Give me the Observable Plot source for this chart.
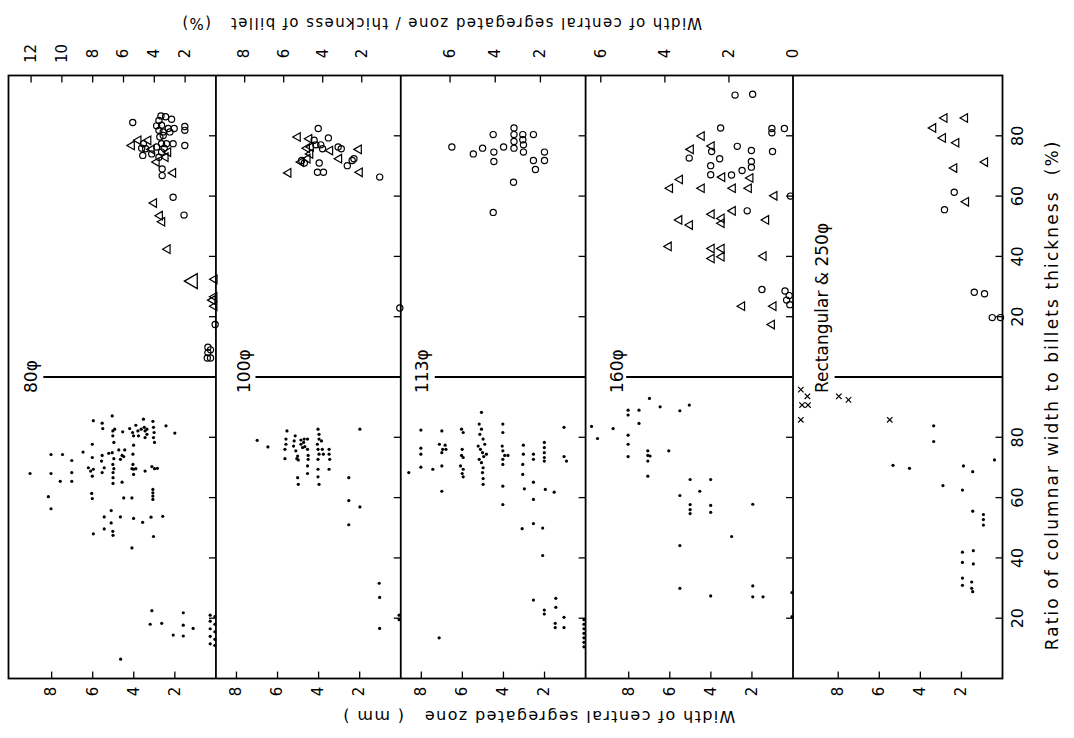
<!DOCTYPE html>
<html>
<head>
<meta charset="utf-8">
<script src="https://cdn.jsdelivr.net/npm/d3@7"></script>
<script src="https://cdn.jsdelivr.net/npm/@observablehq/plot@0.6"></script>
<style>
  html, body { margin: 0; padding: 0; background: #fff; }
  #chart { width: 1074px; height: 738px; }
</style>
</head>
<body>
<div id="chart"></div>
<script>
// ---------------- axes / panels ----------------
const panels = ["80φ", "100φ", "113φ", "160φ", "Rectangular & 250φ"];
const panelMaxMm = [10.1, 9.0, 9.0, 10.1, 10.2];          // width axis extent of each panel (mm)
const mmPerPercent = [0.75, 0.95, 1.10, 1.56, 2.5];        // top (%) axis relative to bottom (mm) axis
const mmTicks = [2, 4, 6, 8];
const percentTicks = [[2, 4, 6, 8, 10, 12], [2, 4, 6, 8], [2, 4, 6], [0, 2, 4, 6], []];
const ratioTicks = [20, 40, 60, 80];

// ---------------- lower half: width in mm vs ratio (%) ----------------
const dots80 = [[9.05,68.0],[8.16,60.3],[8.03,74.3],[8.03,68.0],[8.03,56.3],[7.58,65.4],[7.47,74.3],[7.02,72.3],[7.02,68.3],[7.02,65.4],[6.47,75.1],
[5.97,85.5],[6.02,77.7],[6.02,73.3],[6.21,69.9],[6.10,68.8],[5.97,69.4],[6.02,67.1],[6.05,61.4],[6.02,59.7],[5.97,48.0],
[5.54,84.7],[5.51,82.9],[5.54,74.0],[5.57,72.1],[5.44,69.9],[5.54,68.3],[5.44,53.6],[5.44,49.6],
[5.05,87.1],[5.02,82.1],[4.93,82.7],[5.02,80.5],[4.97,78.3],[5.22,74.7],[5.05,74.9],[4.97,72.9],[5.02,71.0],[4.97,69.6],[5.01,68.3],[5.01,66.6],[5.01,64.7],[5.10,55.7],[5.10,51.6],[5.02,48.8],[5.01,47.5],
[4.54,81.8],[4.73,75.8],[4.57,74.0],[4.65,72.7],[4.44,75.8],[4.49,73.6],[4.57,65.1],[4.49,59.9],[4.65,53.6],
[4.20,82.9],[4.06,81.6],[4.01,80.5],[4.01,77.4],[4.04,74.4],[4.04,71.0],[4.09,69.6],[4.01,69.4],[3.90,69.6],[4.01,67.7],[4.09,59.9],[4.01,53.1],[4.09,43.3],
[3.90,84.0],[3.80,82.1],[3.77,80.5],[3.64,82.7],[3.57,51.8],
[3.53,86.0],[3.49,83.3],[3.45,82.1],[3.36,81.0],[3.45,79.9],[3.36,82.7],[3.45,68.8],[3.16,53.5],
[3.07,85.3],[3.04,83.3],[3.01,81.6],[3.04,79.9],[2.99,78.3],[3.12,70.3],[2.99,69.6],[2.85,69.7],[3.07,62.7],[3.07,61.6],[3.07,60.5],[3.07,59.4],[3.04,47.1],[2.59,53.8],
[2.43,83.8],[2.00,81.4],
[3.12,22.5],[3.20,18.0],[2.64,18.3],[2.08,14.4],[1.59,21.8],[1.59,17.7],[1.59,14.1],[1.11,16.6],[4.64,6.4],
[0.28,21.0],[0.05,20.5],[0.28,19.0],[0.05,18.0],[0.28,16.5],[0.05,15.5],[0.28,14.0],[0.05,13.0],[0.28,11.5],[0.05,11.0]];

const dots100 = [[6.99,79.0],[6.47,76.8],
[5.54,82.1],[5.59,79.4],[5.59,77.7],[5.64,76.0],[5.64,72.9],
[5.14,80.5],[5.19,78.8],[5.22,77.1],[5.11,75.5],[5.02,73.8],[5.06,72.9],[4.99,72.5],[5.02,66.6],[4.99,64.4],
[4.86,79.1],[4.86,77.7],[4.78,76.6],[4.73,78.3],[4.70,79.4],[4.67,76.9],
[4.54,79.4],[4.54,76.0],[4.51,74.0],[4.51,72.7],[4.54,70.5],[4.54,68.0],
[4.03,82.7],[3.98,81.0],[3.98,79.4],[4.06,77.7],[4.03,76.0],[3.98,74.4],[4.03,72.7],[4.03,69.4],[4.03,66.9],[3.98,64.4],[3.86,78.8],[3.82,76.0],[3.77,74.4],
[3.49,76.0],[3.49,74.4],[3.46,72.7],[3.49,69.4],
[2.53,66.6],[2.53,59.0],[2.53,51.0],
[1.99,82.7],[1.99,56.9],
[1.05,31.6],[1.03,26.9],[1.03,16.6],
[0.08,21.0],[0.08,19.5]];

const dots113 = [[8.61,68.3],
[8.02,82.4],[8.02,76.4],[8.02,74.4],[8.02,70.1],[7.44,69.4],
[7.00,82.1],[7.12,77.7],[6.84,77.4],[6.96,76.0],[7.00,74.9],[6.80,76.0],[7.00,70.5],[7.00,62.1],[7.13,13.5],
[6.04,82.7],[5.96,81.6],[6.01,76.0],[6.04,74.0],[5.96,73.3],[6.09,70.5],[5.96,69.4],[6.01,68.0],[5.96,66.9],
[5.07,88.3],[5.18,84.4],[5.07,82.7],[5.15,81.0],[4.99,79.4],[5.23,77.1],[5.12,76.0],[5.02,74.9],[4.96,73.6],[5.18,72.7],[5.07,71.6],[4.99,69.9],[5.02,68.3],[4.99,66.3],[4.99,64.4],[4.91,77.7],[4.83,74.4],
[4.03,84.4],[4.03,81.6],[4.06,77.1],[4.03,75.5],[3.94,74.0],[4.03,72.7],[4.03,71.0],[4.03,63.8],[4.03,57.7],[3.78,74.0],
[3.03,77.4],[3.03,74.4],[3.06,71.0],[3.06,67.7],[2.98,62.9],[3.09,49.7],
[2.54,74.4],[2.54,72.7],[2.54,65.1],[2.54,59.4],[2.54,51.4],[2.54,26.0],
[2.01,78.3],[2.01,76.6],[2.01,74.9],[2.01,73.3],[2.01,72.1],[1.96,62.7],[2.09,49.9],[2.09,40.8],[2.01,22.7],[2.01,21.4],
[1.53,61.8],[1.45,26.6],[1.45,23.6],[1.48,18.3],[1.48,16.9],
[1.05,83.3],[1.05,73.6],[0.93,72.1],[1.05,20.3],[1.05,16.9],
[0.08,19.5],[0.08,18.0],[0.08,16.5],[0.08,15.0],[0.08,13.5],[0.08,12.0],[0.08,10.5]];

const dots160 = [[9.81,83.6],[9.52,79.6],[8.76,82.9],
[8.03,89.0],[8.03,87.4],[8.03,80.7],[8.03,77.7],[8.03,73.6],
[7.50,89.0],[7.50,84.6],
[7.07,75.5],[7.07,74.0],[6.96,73.8],[7.07,72.1],[7.07,67.1],
[6.99,92.9],[6.47,90.1],[6.05,75.5],
[5.51,88.8],[5.51,60.7],[5.51,44.1],[5.51,29.9],
[5.05,90.7],[5.01,66.0],[5.01,57.7],[5.01,56.0],[5.01,54.7],
[4.54,62.1],
[4.01,66.0],[4.01,57.4],[4.01,55.1],[4.01,27.4],
[2.99,47.1],
[1.96,57.8],[1.96,30.7],[1.96,27.1],[1.46,27.1],
[0.05,28.5],[0.05,20.5]];

const dots250 = [[3.35,83.8],[3.35,78.6],[5.33,70.7],[4.53,69.7],[2.90,64.0],[1.95,62.5],[1.90,70.5],[1.45,68.6],[1.45,55.5],
[0.93,54.4],[0.93,52.7],[0.93,50.9],
[1.95,41.9],[1.95,38.5],[1.95,33.3],[1.95,30.9],
[1.42,42.4],[1.42,38.0],[1.50,32.0],[1.50,29.9],[1.45,28.8],
[0.39,72.5]];

const crossesRect = [[9.82,95.8],[9.50,93.6],[9.76,90.7],[9.47,90.7],[9.82,85.8],[7.97,93.6],[7.50,92.4],[5.49,85.8]];

// ---------------- upper half: width / billet thickness (%) vs ratio (%) ----------------
const circles80 = [[5.40,84.4],[3.57,86.6],[3.27,86.3],[3.70,85.1],[2.88,85.5],[3.85,83.3],[3.53,83.5],[3.10,82.4],[2.71,82.4],[3.70,81.8],[3.42,81.3],[2.99,81.3],[3.42,80.1],[3.64,79.6],
[2.02,83.1],[2.02,81.8],[2.02,76.8],[4.71,77.4],[4.82,75.9],[4.56,75.7],[4.75,73.5],[4.17,74.0],[3.85,76.3],[3.53,77.4],[3.21,77.4],[2.78,77.4],[3.36,75.9],[3.53,74.6],[3.70,72.9],
[3.49,69.0],[3.49,66.8],[2.78,59.6],[2.07,53.7],
[0.05,17.4],[0.52,9.9],[0.52,8.1],[0.35,9.0],[0.35,6.3],[0.56,6.3]];
const triangles80 = [[5.46,76.8],[5.03,78.5],[4.39,78.5],[4.17,75.5],[3.10,74.6],[3.27,72.9],[3.85,71.3],[2.78,67.7],[4.02,57.7],[3.64,53.5],[3.49,51.5],[3.14,42.4],
[0.09,32.4],[0.10,26.6],[0.22,25.5],[0.10,23.5]];
const bigTriangles80 = [[1.49,31.8]];

const circles100 = [[4.23,82.4],[3.71,79.3],[4.44,78.5],[4.35,77.0],[4.10,77.0],[4.01,75.7],[5.08,71.8],[4.94,71.0],[4.18,71.0],[4.27,67.9],[3.96,67.9],
[3.21,76.3],[3.05,75.7],[2.74,70.1],[2.49,71.8],[2.40,72.4],[1.08,66.3],[0.05,22.9]];
const triangles100 = [[5.28,79.6],[4.69,79.0],[4.81,75.9],[4.64,74.0],[4.78,72.4],[4.61,76.3],[5.11,71.3],[5.76,67.7],[3.62,75.1],[3.16,72.4],[2.15,75.5],[2.10,67.9]];

const circles113 = [[5.92,76.3],[4.97,74.0],[4.56,75.9],[4.09,80.4],[4.06,74.6],[4.06,71.5],[3.63,76.3],[3.17,82.6],[3.17,80.4],[3.17,78.1],[3.17,75.9],
[2.78,80.4],[2.78,78.7],[2.75,77.0],[2.75,74.6],[2.31,80.4],[2.31,71.8],[2.22,68.8],[1.82,74.6],[1.82,71.8],[3.19,64.6],[4.09,54.6]];
const triangles113 = [];

const circles160 = [[3.24,72.6],[2.54,74.8],[2.57,70.1],[2.57,67.1],[2.26,82.6],[2.29,72.4],[1.92,67.0],[1.74,76.5],[1.59,68.5],[1.30,75.1],[1.30,71.5],[1.30,69.6],
[1.81,93.5],[1.26,93.8],[0.66,82.4],[0.66,81.0],[0.27,82.4],[0.64,74.8],[1.43,55.1],[0.97,29.0],[0.08,60.0],
[0.25,28.5],[0.12,27.0],[0.20,25.5],[0.10,24.0]];
const triangles160 = [[2.85,79.9],[3.19,75.5],[3.53,65.5],[3.84,62.6],[2.85,62.6],[2.54,76.6],[2.21,66.3],[1.88,62.6],[1.33,66.0],[1.38,62.6],[0.58,60.1],
[2.54,54.0],[2.23,52.6],[2.23,51.0],[1.88,55.1],[0.84,52.1],[3.55,52.1],[3.22,50.4],[3.88,43.3],[2.54,42.6],[2.54,39.3],[2.23,42.6],[2.23,39.9],[0.92,40.1],
[1.59,23.5],[0.61,23.5],[0.66,17.4]];

const circlesRect = [[0.94,61.3],[1.13,55.5],[0.55,28.1],[0.35,27.6],[0.20,19.7],[0.04,19.7]];
const trianglesRect = [[1.13,85.9],[0.73,85.9],[1.35,82.6],[1.16,79.3],[0.90,77.7],[0.34,71.3],[0.94,69.3],[0.71,58.1]];

// ---------------- texts ----------------
const topTitle = "Width of central segregated zone / thickness of billet\u00a0\u00a0\u00a0(%)";
const bottomTitle = "Width of central segregated zone\u00a0\u00a0\u00a0(\u00a0mm\u00a0)";
const rightTitle = "Ratio of columnar width to billets thickness\u00a0\u00a0(%)";

// ---------------- layout helpers ----------------
const starts = panelMaxMm.map((_, i) => d3.sum(panelMaxMm.slice(0, i)));
const totalMm = d3.sum(panelMaxMm);
const ux = (i, mm) => starts[i] + panelMaxMm[i] - mm;   // panel-local reversed width axis
const UPPER = 100;                                      // upper half sits above the lower half

const lowerDotSets = [dots80, dots100, dots113, dots160, dots250];
const circleSets = [circles80, circles100, circles113, circles160, circlesRect];
const triangleSets = [triangles80, triangles100, triangles113, triangles160, trianglesRect];

const dotRows = lowerDotSets.flatMap((arr, i) => arr.map(([mm, r]) => ({u: ux(i, mm), y: r})));
const crossRows = crossesRect.map(([mm, r]) => ({u: ux(4, mm), y: r}));
const circleRows = circleSets.flatMap((arr, i) => arr.map(([p, r]) => ({u: ux(i, p * mmPerPercent[i]), y: UPPER + r})));
const triangleRows = triangleSets.flatMap((arr, i) => arr.map(([p, r]) => ({u: ux(i, p * mmPerPercent[i]), y: UPPER + r})));
const bigTriangleRows = bigTriangles80.map(([p, r]) => ({u: ux(0, p * mmPerPercent[0]), y: UPPER + r}));

const edges = panelMaxMm.map((m, i) => starts[i] + m);
const bottomTickRows = panels.flatMap((_, i) => mmTicks.map(v => ({u: ux(i, v), t: String(v)})));
const topTickRows = panels.flatMap((_, i) => percentTicks[i].map(p => ({u: ux(i, p * mmPerPercent[i]), t: String(p), p})));
const ratioTickRows = edges.flatMap(e => [0, UPPER].flatMap(off => ratioTicks.map(r => ({e, y: off + r, t: String(r)}))));
const rightLabelRows = [0, UPPER].flatMap(off => ratioTicks.map(r => ({y: off + r, t: String(r)})));

const labelOffsetMm = [1.12, 1.38, 1.08, 1.55, 1.42];
const dividerGapMm = [1.72, 1.95, 1.68, 2.0, 2.05];
const panelLabelRows = panels.map((name, i) => ({u: starts[i] + labelOffsetMm[i], t: name}));
const dividerRows = panels.map((_, i) => ({a: starts[i] + dividerGapMm[i], b: edges[i]}));

const TICK_Y = 2.3;   // tick length in ratio units (~7px)
const TICK_X = 0.34;  // tick length in mm units (~7px)

const triLeft = {
  draw(ctx, size) {
    const s3 = Math.sqrt(3);
    const y = -Math.sqrt(size / (s3 * 3));
    ctx.moveTo(y * 2, 0);
    ctx.lineTo(-y, -s3 * y);
    ctx.lineTo(-y, s3 * y);
    ctx.closePath();
  }
};

const FONT = "DejaVu Sans";
const centered = {textAnchor: "middle", lineAnchor: "middle", fill: "#000"};

const chart = Plot.plot({
  width: 1074,
  height: 738,
  marginLeft: 8,
  marginRight: 72,
  marginTop: 75,
  marginBottom: 60,
  x: {domain: [0, totalMm], axis: null},
  y: {domain: [0, 2 * UPPER], axis: null},
  style: {fontFamily: FONT, background: "#fff", color: "#000"},
  marks: [
    // panel boundaries and frame
    Plot.ruleX(edges.slice(0, -1), {stroke: "#000", strokeWidth: 1.8}),
    Plot.ruleY(dividerRows, {y: UPPER, x1: "a", x2: "b", stroke: "#000", strokeWidth: 1.8}),
    Plot.frame({stroke: "#000", strokeWidth: 1.8}),
    // ticks
    Plot.link(bottomTickRows, {x1: "u", x2: "u", y1: 0, y2: TICK_Y, stroke: "#000", strokeWidth: 1.3}),
    Plot.link(topTickRows.filter(d => d.p !== 0), {x1: "u", x2: "u", y1: 2 * UPPER, y2: 2 * UPPER - TICK_Y, stroke: "#000", strokeWidth: 1.3}),
    Plot.link(ratioTickRows, {x1: "e", x2: d => d.e - TICK_X, y1: "y", y2: "y", stroke: "#000", strokeWidth: 1.3}),
    // tick labels
    Plot.text(bottomTickRows, {x: "u", frameAnchor: "bottom", dy: 13, text: "t", rotate: -90, fontSize: 15, ...centered}),
    Plot.text(topTickRows, {x: "u", frameAnchor: "top", dy: -22, text: "t", rotate: -90, fontSize: 15, ...centered}),
    Plot.text(rightLabelRows, {y: "y", frameAnchor: "right", dx: 15, text: "t", rotate: -90, fontSize: 16, ...centered}),
    // titles
    Plot.text([topTitle], {frameAnchor: "top", dx: -64, dy: -53, text: d => d, rotate: 180, fontSize: 15, ...centered}),
    Plot.text([bottomTitle], {frameAnchor: "bottom", dx: 33, dy: 38, text: d => d, rotate: 180, fontSize: 16, ...centered}),
    Plot.text([rightTitle], {frameAnchor: "right", dx: 50, dy: 18, text: d => d, rotate: -90, fontSize: 17, ...centered}),
    // panel labels
    Plot.text(panelLabelRows, {x: "u", y: UPPER, dy: 16, text: "t", rotate: -90, textAnchor: "start", lineAnchor: "middle", fontSize: 17, fill: "#000"}),
    // data
    Plot.dot(dotRows, {x: "u", y: "y", r: 1.6, fill: "#000", stroke: null}),
    Plot.dot(crossRows, {x: "u", y: "y", r: 2.6, symbol: "times", stroke: "#000", strokeWidth: 1.2}),
    Plot.dot(circleRows, {x: "u", y: "y", r: 3.1, fill: "none", stroke: "#000", strokeWidth: 1.2}),
    Plot.dot(triangleRows, {x: "u", y: "y", r: 3.2, symbol: triLeft, fill: "none", stroke: "#000", strokeWidth: 1.2}),
    Plot.dot(bigTriangleRows, {x: "u", y: "y", r: 5.5, symbol: triLeft, fill: "none", stroke: "#000", strokeWidth: 1.3})
  ]
});

// letter spacing of the axis titles (style only)
const spacing = new Map([[topTitle, "1.4px"], [bottomTitle, "1.4px"], [rightTitle, "2.1px"]]);
d3.select(chart).selectAll("text").each(function () {
  const s = spacing.get(this.textContent);
  if (s) this.setAttribute("letter-spacing", s);
});

document.getElementById("chart").appendChild(chart);
</script>
</body>
</html>
